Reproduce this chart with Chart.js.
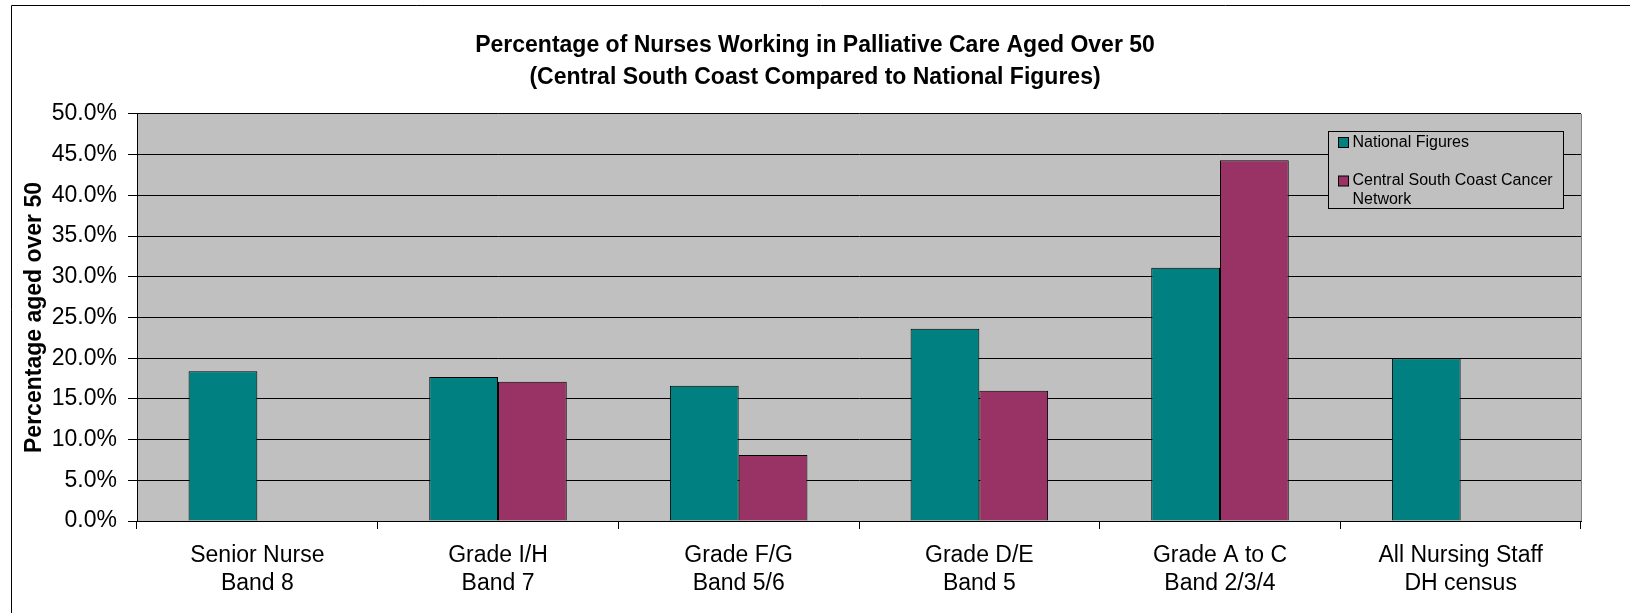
<!DOCTYPE html>
<html>
<head>
<meta charset="utf-8">
<title>Nurses aged over 50</title>
<script src="https://cdn.jsdelivr.net/npm/chart.js@4"></script>
<style>
  body { margin: 0; background: #fff; }
  #wrap { position: relative; width: 1630px; height: 613px; }
</style>
</head>
<body>
<div id="wrap"><canvas id="myChart"></canvas></div>
<script>
const categories = [
    ['Senior Nurse', 'Band 8'],
    ['Grade I/H', 'Band 7'],
    ['Grade F/G', 'Band 5/6'],
    ['Grade D/E', 'Band 5'],
    ['Grade A to C', 'Band 2/3/4'],
    ['All Nursing Staff', 'DH census']
];

const nationalFigures = [18.4, 17.7, 16.6, 23.6, 31.1, 20.0];
const centralSouthCoast = [null, 17.1, 8.1, 16.0, 44.3, null];

const seriesNames = ['National Figures', 'Central South Coast Cancer Network'];

const yTicks = [0, 5, 10, 15, 20, 25, 30, 35, 40, 45, 50];

Chart.defaults.font.family = '"Liberation Sans", Arial, sans-serif';
Chart.defaults.color = '#000';

// grey plot area, outer frame, legend box
const plotBack = {
    id: 'plotBack',
    beforeDraw(chart) {
        const { ctx, chartArea: a } = chart;
        ctx.save();
        ctx.fillStyle = '#fff';
        ctx.fillRect(0, 0, chart.width, chart.height);
        ctx.strokeStyle = '#000';
        ctx.lineWidth = 1;
        ctx.beginPath();
        ctx.moveTo(11.5, chart.height);
        ctx.lineTo(11.5, 5.5);
        ctx.lineTo(chart.width, 5.5);
        ctx.stroke();
        ctx.fillStyle = '#C0C0C0';
        ctx.fillRect(a.left, a.top, a.right - a.left, a.bottom - a.top);
        ctx.restore();
    },
    afterDraw(chart) {
        const { ctx, chartArea: a } = chart;
        ctx.save();
        ctx.strokeStyle = '#808080';
        ctx.lineWidth = 1;
        ctx.beginPath();
        ctx.moveTo(Math.round(a.right) + 0.5, a.top);
        ctx.lineTo(Math.round(a.right) + 0.5, a.bottom);
        ctx.stroke();

        const x0 = 1328.5, y0 = 131.5, w = 235, h = 77;
        ctx.fillStyle = '#C0C0C0';
        ctx.fillRect(x0, y0, w, h);
        ctx.strokeStyle = '#000';
        ctx.strokeRect(x0, y0, w, h);
        ctx.font = '16px "Liberation Sans", Arial, sans-serif';
        ctx.textBaseline = 'middle';
        const rows = [[142.5], [181, 199.5]];
        const texts = [[chart.data.datasets[0].label], ['Central South Coast Cancer', 'Network']];
        chart.data.datasets.forEach((ds, i) => {
            const sy = rows[i][0];
            ctx.fillStyle = ds.backgroundColor;
            ctx.fillRect(1338.5, sy - 5, 10, 10);
            ctx.strokeStyle = '#000';
            ctx.strokeRect(1338.5, sy - 5, 10, 10);
            ctx.fillStyle = '#000';
            texts[i].forEach((t, j) => ctx.fillText(t, 1352.5, rows[i][j]));
        });
        ctx.restore();
    }
};

const data = {
    labels: categories,
    datasets: [
        {
            label: seriesNames[0],
            backgroundColor: '#008080',
            borderColor: '#000',
            borderWidth: 1,
            data: nationalFigures
        },
        {
            label: seriesNames[1],
            backgroundColor: '#993366',
            borderColor: '#000',
            borderWidth: 1,
            data: centralSouthCoast
        }
    ]
};

const config = {
    type: 'bar',
    data: data,
    plugins: [plotBack],
    options: {
        responsive: true,
        maintainAspectRatio: false,
        animation: false,
        layout: { padding: 0 },
        datasets: {
            bar: { categoryPercentage: 2 / 3.5, barPercentage: 1.0 }
        },
        scales: {
            x: {
                grid: {
                    offset: true,
                    drawOnChartArea: false,
                    drawTicks: true,
                    tickLength: 8,
                    color: '#000'
                },
                border: { color: '#000', width: 1 },
                ticks: {
                    font: { size: 23 },
                    padding: 13,
                    maxRotation: 0,
                    autoSkip: false
                },
                afterFit(scale) { scale.height = 92; }
            },
            y: {
                min: 0,
                max: 50,
                afterBuildTicks(scale) {
                    scale.ticks = yTicks.map(v => ({ value: v }));
                },
                grid: {
                    color: '#000',
                    tickLength: 9,
                    drawTicks: true
                },
                border: { color: '#000', width: 1 },
                ticks: {
                    font: { size: 23 },
                    padding: 11,
                    callback: v => v.toFixed(1) + '%'
                },
                title: {
                    display: true,
                    text: 'Percentage aged over 50',
                    font: { size: 23, weight: 'bold' },
                    padding: { top: 21, bottom: 0 }
                },
                afterFit(scale) { scale.width = 137; }
            },
            // empty right-hand space, keeps the title centred on the whole canvas
            yRight: {
                position: 'right',
                display: true,
                grid: { display: false },
                border: { display: false },
                ticks: { display: false },
                afterFit(scale) { scale.width = 49; }
            }
        },
        plugins: {
            legend: { display: false },
            tooltip: { enabled: false },
            title: {
                display: true,
                text: [
                    'Percentage of Nurses Working in Palliative Care Aged Over 50',
                    '(Central South Coast Compared to National Figures)'
                ],
                font: { size: 23, weight: 'bold', lineHeight: 1.39 },
                color: '#000',
                padding: { top: 30, bottom: 20 }
            }
        }
    }
};

const myChart = new Chart(document.getElementById('myChart'), config);
</script>
</body>
</html>
